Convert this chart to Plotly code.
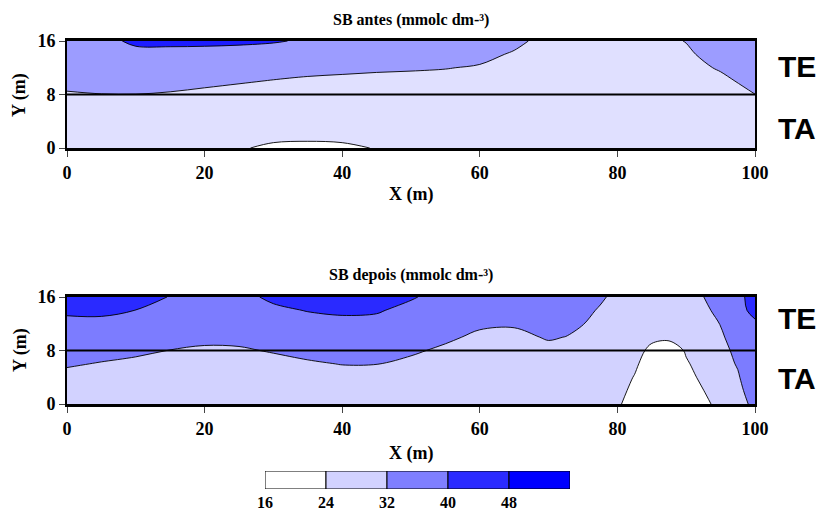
import numpy as np
import plotly.graph_objects as go

# ---------------- data ----------------
y_rows = [0, 2, 4, 6, 8, 10, 12, 14, 16]

# SB antes: x positions and column profiles (values along y_rows)
x_antes = [0, 5, 10, 15, 20, 25, 30, 35, 40, 45, 50, 55, 60, 65, 70, 75, 80, 85, 90, 95, 100]
sb_antes_cols = [
    [27, 27, 27, 27, 31, 35, 38, 38, 38],
    [27, 27, 27, 27.8, 31.8, 35.8, 38, 38, 38],
    [27, 27, 27, 27.9, 31.9, 35.9, 38, 38, 41.3],
    [27, 27, 27, 27.2, 31.2, 35.2, 38, 38, 41.5],
    [27, 27, 27, 27, 30, 34, 38, 38, 41.3],
    [25, 27, 27, 27, 28.8, 32.8, 36.8, 38, 40.9],
    [22, 27, 27, 27, 27.6, 31.6, 35.6, 38, 40.35],
    [21, 27, 27, 27, 27, 30.6, 34.6, 38, 39.5],
    [22, 27, 27, 27, 27, 30, 34, 38, 38],
    [24.5, 27, 27, 27, 27, 29.4, 33.4, 37.4, 38],
    [27, 27, 27, 27, 27, 29, 33, 37, 38],
    [27, 27, 27, 27, 27, 28.4, 32.4, 36.4, 38],
    [27, 27, 27, 27, 27, 27, 31, 35, 38],
    [27, 27, 27, 27, 27, 27, 27.2, 30.8, 34.8],
    [27, 27, 27, 27, 27, 27, 27, 27, 28],
    [27, 27, 27, 27, 27, 27, 27, 27, 28],
    [27, 27, 27, 27, 27, 27, 27, 27, 28],
    [27, 27, 27, 27, 27, 27, 27, 27, 28],
    [27, 27, 27, 27, 27, 27, 28, 30, 32.4],
    [27, 27, 27, 27, 27.2, 29.2, 33.2, 37.2, 38],
    [27, 27, 27, 27, 31.9, 35.9, 38, 38, 38],
]

# SB depois
x_depois = [0, 5, 10, 15, 20, 25, 30, 35, 40, 45, 50, 55, 60, 65, 70, 72.5, 75, 77.5,
            80, 82.5, 85, 87.5, 90, 92.5, 95, 97.5, 100]
sb_depois_cols = [
    [26, 26, 29.1, 33.1, 36, 36, 37.6, 41.6, 45.6],
    [26, 26, 27.4, 31.4, 35.4, 36, 37.8, 41.8, 45.8],
    [26, 26, 26, 29.9, 33.9, 36, 36, 39.9, 43.9],
    [26, 26, 26, 27.8, 31.8, 35.8, 36, 37.5, 39.6],
    [26, 26, 26, 26.5, 30.5, 34.5, 36, 37, 38],
    [26, 26, 26, 26.8, 30.8, 34.8, 36, 36.5, 37],
    [26, 26, 26, 28.8, 32.8, 36, 36, 38, 42],
    [26, 26, 26.8, 30.8, 34.8, 36, 36.4, 40.4, 44.4],
    [26, 26, 28.3, 32.3, 36, 36, 37.5, 41.5, 45.5],
    [26, 26, 28.2, 32.2, 36, 36, 37, 41, 45],
    [26, 26, 26, 29.6, 33.6, 36, 36, 37, 41],
    [26, 26, 26, 26, 30, 34, 36, 36, 36],
    [26, 26, 26, 26, 26, 29.8, 33.8, 36, 36],
    [26, 26, 26, 26, 26, 29.2, 33.2, 36, 36],
    [26, 26, 26, 26, 29, 33, 36, 36, 36],
    [26, 26, 26, 26, 27.8, 31.8, 35.8, 36, 36],
    [26, 26, 26, 26, 26, 28.4, 32.4, 36, 36],
    [26, 26, 26, 26, 26, 26, 26.4, 30.4, 34.4],
    [25.9, 30.6, 30.3, 29, 28, 28, 28, 28, 27.7],
    [18, 18.8, 23.3, 26.5, 29, 29, 28, 28, 28],
    [16.5, 16.5, 16.5, 16.1, 20.67, 26.95, 29, 29, 29],
    [16.5, 16.5, 16.5, 16.3, 16.6, 26.9, 28.8, 29, 29],
    [17, 17, 18.3, 22.6, 25.4, 29, 29, 29, 29],
    [19.8, 23.8, 27.8, 29, 29, 29, 30, 31, 31.9],
    [29.3, 29, 29, 29, 29, 30.5, 32.2, 33.3, 36],
    [27, 29, 31.2, 32.6, 34.4, 36.8, 37, 37, 35.6],
    [35.3, 38, 38, 38, 38, 38, 38.6, 42.6, 46.6],
]

levels = [16, 24, 32, 40, 48]
level_top = 56
colors_antes = ["#ffffff", "#ffffff", "#e0e0ff", "#9c9cff", "#1c1cff", "#0000ff"]
colors_depois = ["#ffffff", "#ffffff", "#d2d2ff", "#7c7cff", "#2a2aff", "#0000ff"]
bar_colors = ["#ffffff", "#d2d2ff", "#7f7fff", "#2a2aff", "#0000ff"]

layer_depth = 8
x_extent = [0, 100]
x_ticks = [0, 20, 40, 60, 80, 100]
y_ticks = [0, 8, 16]
titles = ["SB antes (mmolc dm-³)", "SB depois (mmolc dm-³)"]
layer_labels = ["TE", "TA"]

# ---------------- figure ----------------
W, H = 816, 513
def px_x(p): return p / W
def px_y(p): return 1 - p / H

serif = "Liberation Serif"
sans = "Liberation Sans"

def scale(cols):
    n = len(cols) - 1
    return [[i / n, c] for i, c in enumerate(cols)]

fig = go.Figure()

panels = [
    (x_antes, sb_antes_cols, colors_antes, "x", "y"),
    (x_depois, sb_depois_cols, colors_depois, "x2", "y2"),
]
for xs, cols, cset, xa, ya in panels:
    z = np.array(cols).T
    fig.add_trace(go.Contour(
        x=xs, y=y_rows, z=z, xaxis=xa, yaxis=ya,
        contours=dict(start=levels[0], end=levels[-1], size=levels[1] - levels[0],
                      coloring="fill", showlines=True),
        line=dict(color="black", width=0.9, smoothing=1.0),
        colorscale=scale(cset), showscale=False, hoverinfo="skip",
    ))
    fig.add_trace(go.Scatter(
        x=x_extent, y=[layer_depth, layer_depth], xaxis=xa, yaxis=ya,
        mode="lines", line=dict(color="black", width=2), hoverinfo="skip",
    ))

# colour key as stacked bar segments
bounds = levels + [level_top]
fig.add_trace(go.Bar(
    y=[0] * len(levels), x=list(np.diff(bounds)), base=levels[:],
    orientation="h", xaxis="x3", yaxis="y3", width=1,
    marker=dict(color=bar_colors, line=dict(color="black", width=1)),
    hoverinfo="skip",
))

xdom = [px_x(67), px_x(755)]
tickfont = dict(family=serif, size=18, color="black", weight="bold")
xcommon = dict(range=x_extent, tickvals=x_ticks, ticks="outside", ticklen=6, tickwidth=1,
               showline=True, linewidth=3, linecolor="black", mirror=True, automargin=False,
               showgrid=False, zeroline=False, tickfont=tickfont, domain=xdom)
ycommon = dict(range=[0, 16], tickvals=y_ticks, ticks="outside", ticklen=6, tickwidth=1,
               showline=True, linewidth=2, linecolor="black", mirror=True, automargin=False,
               showgrid=False, zeroline=False, tickfont=tickfont)

fig.update_layout(
    width=W, height=H, margin=dict(l=0, r=0, t=0, b=0, autoexpand=False),
    paper_bgcolor="white", plot_bgcolor="white", showlegend=False,
    xaxis=dict(**xcommon, anchor="y"),
    yaxis=dict(**ycommon, anchor="x", domain=[px_y(148), px_y(41)]),
    xaxis2=dict(**xcommon, anchor="y2"),
    yaxis2=dict(**ycommon, anchor="x2", domain=[px_y(404), px_y(297)]),
    xaxis3=dict(range=[levels[0], level_top], tickvals=levels, ticks="",
                ticklabelstandoff=2, showline=False, automargin=False,
                showgrid=False, zeroline=False,
                tickfont=dict(family=serif, size=16, color="black", weight="bold"),
                anchor="y3", domain=[px_x(265), px_x(570)]),
    yaxis3=dict(range=[-0.5, 0.5], visible=False, anchor="x3", automargin=False,
                domain=[px_y(489), px_y(471)]),
)

ann = []
def add_text(text, xp, yp, family, size, angle=0):
    ann.append(dict(text=text, x=px_x(xp), y=px_y(yp), xref="paper", yref="paper",
                    xanchor="center", yanchor="middle", showarrow=False, textangle=angle,
                    font=dict(family=family, size=size, color="black")))

for t, yp in zip(titles, [20, 275]):
    add_text(f"<b>{t}</b>", 411, yp, serif, 16)
for yp in [195, 453]:
    add_text("<b>X (m)</b>", 411, yp, serif, 18)
for yp in [95, 350]:
    add_text("<b>Y (m)</b>", 20, yp, serif, 18, -90)
for lbl, yp in zip(layer_labels * 2, [67, 128, 318, 378]):
    add_text(f"<b>{lbl}</b>", 797, yp, sans, 30)
fig.update_layout(annotations=ann)

fig.write_html("out.html")
